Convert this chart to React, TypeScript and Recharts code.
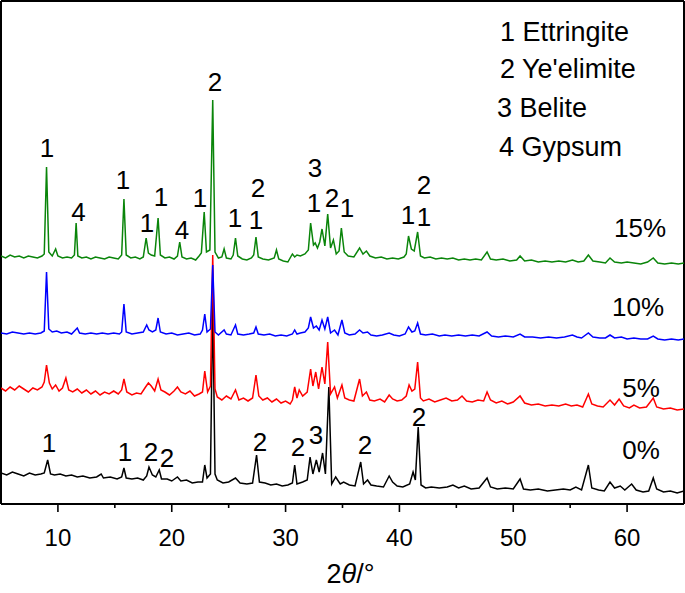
import React from 'react';
import { LineChart, Line, XAxis, YAxis, ReferenceLine, ReferenceDot } from 'recharts';

// 2θ (deg) vs intensity (a.u., traces offset vertically)
const pattern0: [number, number][] = [
  [5.0, 31], [5.5, 29], [6.0, 32], [6.5, 30], [7.0, 28], [7.5, 31], [8.0, 29], [8.5, 30], [8.8, 31], [9.1, 44],
  [9.35, 30], [9.7, 29], [10.2, 30], [10.7, 28], [11.2, 29], [11.7, 27], [12.2, 28], [12.8, 26], [13.4, 27], [13.8, 30],
  [14.0, 26], [14.6, 27], [15.2, 25], [15.6, 27], [15.8, 36], [16.0, 26], [16.5, 25], [17.0, 26], [17.5, 24], [17.8, 28],
  [18.0, 37], [18.3, 29], [18.6, 27], [18.9, 34], [19.1, 25], [19.6, 25], [20.0, 23], [20.5, 27], [20.8, 23], [21.3, 24],
  [21.8, 21], [22.3, 22], [22.7, 22], [22.9, 39], [23.1, 26], [23.4, 30], [23.6, 205], [23.8, 30], [24.0, 24], [24.5, 21],
  [25.0, 22], [25.6, 26], [26.0, 21], [26.6, 20], [27.1, 21], [27.45, 49], [27.7, 22], [28.2, 21], [28.7, 19], [29.2, 20],
  [29.7, 18], [30.2, 19], [30.6, 21], [30.8, 39], [31.0, 20], [31.5, 22], [31.9, 24], [32.15, 47], [32.4, 30], [32.7, 44],
  [32.95, 32], [33.25, 51], [33.5, 30], [33.8, 117], [34.05, 20], [34.4, 27], [34.8, 20], [35.1, 22], [35.6, 19], [36.1, 18],
  [36.6, 42], [36.85, 20], [37.2, 24], [37.5, 19], [38.0, 18], [38.6, 17], [39.1, 28], [39.4, 22], [39.8, 18], [40.3, 17],
  [40.9, 20], [41.2, 32], [41.4, 24], [41.65, 77], [41.9, 19], [42.3, 16], [42.8, 17], [43.5, 16], [44.2, 17], [44.7, 19],
  [45.2, 16], [45.7, 18], [46.3, 15], [47.0, 16], [47.7, 26], [48.0, 17], [48.6, 15], [49.3, 16], [50.0, 15], [50.6, 25],
  [50.9, 15], [51.5, 14], [52.2, 15], [53.0, 13], [53.7, 14], [54.4, 15], [55.0, 14], [55.5, 17], [56.0, 14], [56.6, 39],
  [56.9, 16], [57.5, 14], [58.0, 13], [58.5, 22], [58.9, 16], [59.4, 18], [59.8, 14], [60.4, 20], [60.8, 14], [61.4, 12],
  [61.9, 13], [62.3, 26], [62.6, 15], [63.2, 12], [63.8, 13], [64.4, 11], [65.0, 13],
];

const pattern5: [number, number][] = [
  [5.0, 116], [5.4, 113], [5.8, 117], [6.2, 114], [6.6, 118], [7.0, 115], [7.4, 112], [7.8, 116], [8.2, 114], [8.6, 117],
  [8.8, 122], [9.0, 139], [9.25, 121], [9.5, 115], [9.8, 119], [10.1, 113], [10.4, 116], [10.7, 126], [10.95, 114], [11.3, 112],
  [11.7, 115], [12.1, 111], [12.5, 114], [12.9, 110], [13.3, 113], [13.7, 109], [14.1, 112], [14.5, 110], [14.9, 113], [15.3, 110],
  [15.6, 114], [15.8, 125], [16.05, 112], [16.5, 109], [16.9, 111], [17.3, 110], [17.7, 117], [17.95, 121], [18.2, 118], [18.5, 113],
  [18.8, 125], [19.05, 114], [19.4, 112], [19.8, 109], [20.2, 113], [20.5, 117], [20.8, 112], [21.2, 110], [21.6, 113], [22.0, 108],
  [22.4, 110], [22.7, 112], [22.9, 133], [23.15, 112], [23.4, 118], [23.6, 249], [23.8, 115], [24.0, 107], [24.4, 104], [24.8, 108],
  [25.2, 105], [25.6, 114], [25.9, 104], [26.3, 106], [26.7, 103], [27.1, 106], [27.4, 129], [27.65, 108], [28.0, 104], [28.4, 106],
  [28.8, 102], [29.2, 105], [29.6, 101], [30.0, 103], [30.4, 100], [30.6, 104], [30.8, 117], [31.0, 106], [31.2, 114], [31.5, 108],
  [31.9, 112], [32.2, 135], [32.4, 118], [32.65, 132], [32.9, 115], [33.2, 137], [33.45, 120], [33.7, 162], [33.95, 110], [34.3, 117],
  [34.55, 106], [34.95, 119], [35.2, 106], [35.6, 104], [36.0, 103], [36.5, 125], [36.75, 108], [37.1, 112], [37.4, 104], [37.8, 103],
  [38.3, 105], [38.7, 102], [39.1, 109], [39.4, 105], [39.8, 103], [40.2, 104], [40.6, 108], [40.85, 119], [41.1, 113], [41.35, 115],
  [41.6, 142], [41.85, 106], [42.1, 103], [42.6, 105], [43.1, 102], [43.6, 104], [44.1, 106], [44.6, 103], [45.1, 104], [45.5, 108],
  [45.9, 103], [46.4, 102], [46.9, 104], [47.4, 103], [47.7, 112], [48.0, 104], [48.5, 101], [49.0, 103], [49.5, 100], [50.0, 102],
  [50.6, 108], [51.0, 101], [51.6, 99], [52.2, 100], [52.8, 98], [53.4, 99], [54.0, 98], [54.6, 100], [55.1, 98], [55.6, 99],
  [56.1, 97], [56.6, 110], [56.9, 100], [57.4, 98], [57.9, 97], [58.5, 104], [58.9, 99], [59.3, 105], [59.7, 98], [60.2, 96],
  [60.6, 99], [61.1, 96], [61.7, 97], [62.3, 106], [62.6, 97], [63.2, 95], [63.8, 96], [64.4, 94], [65.0, 95],
];

const pattern10: [number, number][] = [
  [5.0, 171], [5.5, 170], [6.0, 172], [6.5, 171], [7.0, 170], [7.5, 171], [8.0, 170], [8.5, 171], [8.8, 173], [9.0, 232],
  [9.2, 175], [9.5, 172], [9.9, 173], [10.3, 171], [10.8, 172], [11.2, 170], [11.7, 176], [11.9, 171], [12.4, 170], [12.9, 171],
  [13.4, 170], [13.9, 171], [14.4, 170], [14.9, 171], [15.4, 170], [15.6, 172], [15.8, 200], [16.0, 172], [16.5, 170], [17.0, 171],
  [17.5, 172], [17.8, 179], [18.0, 174], [18.3, 172], [18.6, 174], [18.8, 186], [19.0, 172], [19.5, 170], [20.0, 171], [20.5, 169],
  [21.0, 170], [21.5, 171], [22.0, 169], [22.5, 170], [22.7, 174], [22.9, 190], [23.1, 172], [23.4, 175], [23.6, 239], [23.8, 172],
  [24.1, 169], [24.6, 174], [24.8, 170], [25.2, 169], [25.6, 179], [25.8, 170], [26.3, 169], [26.8, 170], [27.2, 171], [27.4, 177],
  [27.6, 170], [28.1, 169], [28.6, 170], [29.1, 168], [29.6, 169], [30.1, 168], [30.6, 170], [30.8, 174], [31.0, 170], [31.3, 171],
  [31.7, 172], [32.0, 176], [32.2, 187], [32.45, 176], [32.7, 178], [32.95, 174], [33.2, 184], [33.45, 175], [33.7, 187], [33.95, 171],
  [34.3, 174], [34.6, 169], [34.95, 184], [35.2, 171], [35.6, 169], [36.1, 170], [36.5, 174], [36.8, 171], [37.2, 172], [37.5, 169],
  [38.0, 168], [38.5, 169], [39.1, 171], [39.5, 169], [40.0, 168], [40.5, 170], [40.8, 177], [41.1, 172], [41.35, 173], [41.6, 181],
  [41.85, 170], [42.3, 169], [42.9, 170], [43.5, 168], [44.0, 169], [44.6, 168], [45.2, 169], [45.8, 168], [46.4, 169], [47.0, 168],
  [47.7, 172], [48.1, 168], [48.7, 167], [49.3, 168], [50.0, 167], [50.6, 170], [51.0, 167], [51.7, 167], [52.4, 166], [53.1, 167],
  [53.8, 166], [54.5, 167], [55.2, 169], [55.6, 167], [56.0, 166], [56.6, 171], [57.0, 167], [57.6, 166], [58.1, 166], [58.5, 169],
  [58.9, 166], [59.5, 167], [60.0, 165], [60.6, 166], [61.2, 165], [61.8, 165], [62.3, 168], [62.7, 165], [63.3, 164], [63.9, 165],
  [64.5, 164], [65.0, 165],
];

const pattern15: [number, number][] = [
  [5.0, 248], [5.4, 246], [5.8, 249], [6.2, 247], [6.6, 248], [7.0, 246], [7.4, 248], [7.8, 247], [8.2, 246], [8.6, 248],
  [8.8, 250], [9.0, 337], [9.2, 252], [9.5, 248], [9.8, 255], [10.0, 248], [10.4, 246], [10.8, 247], [11.2, 246], [11.45, 249],
  [11.6, 281], [11.75, 248], [12.1, 246], [12.5, 247], [12.9, 245], [13.3, 247], [13.7, 246], [14.1, 245], [14.5, 247], [14.9, 246],
  [15.3, 245], [15.6, 249], [15.8, 305], [16.0, 249], [16.4, 246], [16.8, 247], [17.2, 245], [17.5, 247], [17.75, 266], [17.95, 251],
  [18.2, 249], [18.5, 248], [18.8, 286], [19.0, 249], [19.4, 246], [19.8, 247], [20.2, 245], [20.5, 248], [20.7, 262], [20.9, 247],
  [21.3, 245], [21.7, 246], [22.1, 244], [22.4, 248], [22.6, 251], [22.85, 292], [23.05, 252], [23.35, 254], [23.6, 404], [23.8, 252],
  [24.1, 246], [24.4, 247], [24.6, 255], [24.8, 246], [25.2, 245], [25.4, 249], [25.6, 266], [25.8, 248], [26.2, 245], [26.6, 244],
  [27.0, 246], [27.2, 249], [27.4, 267], [27.6, 247], [28.0, 245], [28.5, 244], [29.0, 246], [29.2, 254], [29.4, 245], [29.8, 243],
  [30.2, 242], [30.6, 250], [30.8, 247], [31.0, 249], [31.3, 248], [31.7, 250], [32.0, 254], [32.2, 281], [32.45, 259], [32.6, 261],
  [32.8, 256], [33.0, 262], [33.2, 275], [33.45, 258], [33.7, 290], [33.95, 256], [34.2, 264], [34.45, 250], [34.7, 253], [34.9, 276],
  [35.15, 252], [35.5, 248], [36.0, 247], [36.5, 256], [36.8, 250], [37.1, 253], [37.4, 248], [37.9, 246], [38.4, 247], [38.9, 245],
  [39.4, 246], [39.9, 245], [40.4, 247], [40.6, 250], [40.8, 268], [41.05, 255], [41.3, 253], [41.6, 272], [41.85, 248], [42.2, 246],
  [42.7, 247], [43.2, 245], [43.7, 246], [44.2, 245], [44.7, 246], [45.2, 244], [45.7, 245], [46.2, 244], [46.7, 245], [47.2, 244],
  [47.7, 252], [48.0, 245], [48.5, 244], [49.1, 245], [49.7, 243], [50.3, 244], [50.6, 248], [51.0, 243], [51.6, 244], [52.2, 242],
  [52.8, 243], [53.4, 242], [54.0, 243], [54.6, 242], [55.2, 244], [55.7, 242], [56.2, 243], [56.6, 249], [57.0, 243], [57.6, 242],
  [58.1, 241], [58.5, 246], [58.9, 242], [59.5, 241], [60.0, 242], [60.6, 241], [61.2, 240], [61.8, 242], [62.3, 246], [62.7, 241],
  [63.3, 240], [63.9, 241], [64.5, 240], [65.0, 241],
];

// phase markers: [2θ, intensity, label]
const markers15: [number, number, string][] = [
  [9.05, 356, '1'], [11.8, 292, '4'], [15.72, 324, '1'], [17.83, 281, '1'], [19.06, 307, '1'], [20.9, 274, '4'],
  [22.48, 306, '1'], [23.8, 422, '2'], [25.56, 286, '1'], [27.58, 316, '2'], [27.4, 284, '1'], [32.58, 336, '3'],
  [32.5, 301, '1'], [34.08, 306, '2'], [35.4, 296, '1'], [40.75, 289, '1'], [42.16, 319, '2'], [42.16, 287, '1'],
];
const markers0: [number, number, string][] = [
  [9.22, 61, '1'], [15.9, 52, '1'], [18.18, 52, '2'], [19.58, 46, '2'], [27.75, 62, '2'], [31.09, 57, '2'],
  [32.67, 69, '3'], [36.98, 59, '2'], [41.72, 87, '2'],
];
const seriesNames: [number, number, string][] = [
  [61.14, 276, '15%'], [60.96, 197, '10%'], [61.22, 116, '5%'], [61.22, 54, '0%'],
];
const phases: [number, number, string][] = [
  [48.84, 473, '1 Ettringite'], [48.84, 436, "2 Ye'elimite"], [48.57, 397, '3 Belite'], [48.75, 358, '4 Gypsum'],
];

const majorTicks = [10, 20, 30, 40, 50, 60];
const allTicks = [10, 15, 20, 25, 30, 35, 40, 45, 50, 55, 60];

const FONT = '"Liberation Sans", Arial, Helvetica, sans-serif';

const toRows = (arr: [number, number][]) => arr.map(([t, i]) => ({ t, i }));

const AxisTick = (props: any) => {
  const { x, y, payload } = props;
  const major = majorTicks.includes(payload.value);
  return (
    <g>
      <line x1={x} x2={x} y1={y} y2={y + (major ? 8 : 4)} stroke="#000" strokeWidth={1.6} />
      {major && (
        <text x={x} y={y + 33} textAnchor="middle" dominantBaseline="central" fontSize={24} fontFamily={FONT} fill="#000">
          {payload.value}
        </text>
      )}
    </g>
  );
};

const AxisTitle = (props: any) => {
  const { viewBox } = props;
  const cx = viewBox.x + viewBox.width / 2 + 8;
  return (
    <text x={cx} y={viewBox.y + 70} textAnchor="middle" dominantBaseline="central" fontSize={27} fontFamily={FONT} fill="#000">
      2<tspan fontStyle="italic">θ</tspan>/°
    </text>
  );
};

const textDot = (m: [number, number, string], key: string, anchor: 'center' | 'right', size: number) => (
  <ReferenceDot
    key={key}
    x={m[0]}
    y={m[1]}
    r={0}
    stroke="none"
    fill="none"
    label={{ value: m[2], position: anchor, offset: 0, fontSize: size, fontFamily: FONT, fill: '#000' }}
  />
);

const lineProps = { dataKey: 'i', strokeWidth: 1.5, dot: false, activeDot: false, isAnimationActive: false } as const;

export default function App() {
  return (
    <div style={{ position: 'absolute', left: 0, top: 0, background: '#fff' }}>
      <LineChart width={685} height={593} margin={{ top: 1, right: 1, left: 1, bottom: 29 }}>
        <XAxis
          type="number"
          dataKey="t"
          domain={[5, 65]}
          ticks={allTicks}
          interval={0}
          height={60}
          tickLine={false}
          tickSize={0}
          tickMargin={0}
          tick={<AxisTick />}
          axisLine={{ stroke: '#000', strokeWidth: 2 }}
          label={<AxisTitle />}
          allowDataOverflow
        />
        <YAxis type="number" dataKey="i" domain={[0, 503]} hide allowDataOverflow />
        <ReferenceLine x={5} stroke="#000" strokeWidth={2} />
        <ReferenceLine x={65} stroke="#000" strokeWidth={2} />
        <ReferenceLine y={503} stroke="#000" strokeWidth={2} />
        <Line data={toRows(pattern0)} stroke="#000000" {...lineProps} />
        <Line data={toRows(pattern5)} stroke="#ff0000" {...lineProps} />
        <Line data={toRows(pattern10)} stroke="#0000ff" {...lineProps} />
        <Line data={toRows(pattern15)} stroke="#0a850a" {...lineProps} />
        {markers15.map((m, k) => textDot(m, `g${k}`, 'center', 26))}
        {markers0.map((m, k) => textDot(m, `k${k}`, 'center', 26))}
        {seriesNames.map((m, k) => textDot(m, `s${k}`, 'center', 26))}
        {phases.map((m, k) => textDot(m, `p${k}`, 'right', 27))}
      </LineChart>
    </div>
  );
}
